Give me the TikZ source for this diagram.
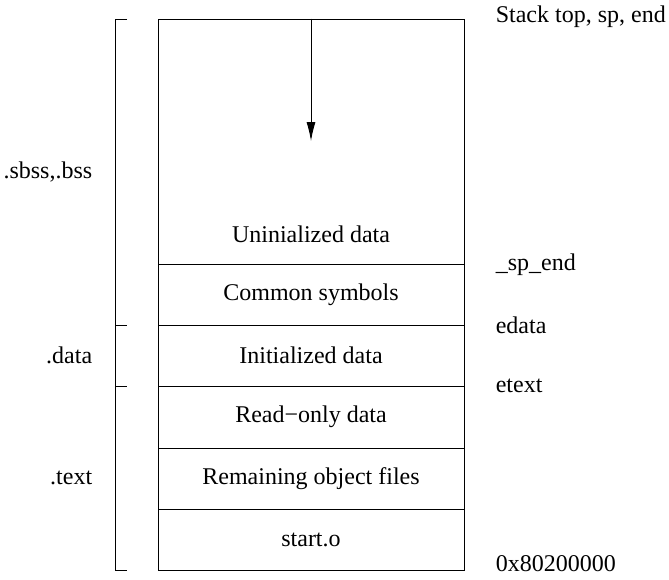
\documentclass[tikz,border=0pt]{standalone}
\usepackage{fontspec}
\setmainfont{Liberation Serif}
\usepackage{tikz}
\usetikzlibrary{arrows.meta}
\usetikzlibrary{positioning}

\begin{document}
\begin{tikzpicture}[x=1pt, y=-1pt, line width=0.9pt, font=\fontsize{24pt}{28pt}\selectfont,
	seg/.style={draw, minimum width=306pt, inner sep=0pt}]
				\useasboundingbox (0,0) rectangle (669,579);
				\node[seg, minimum height=245pt] (uninit) at (311,141.5) {};
				\node[seg, minimum height=61pt] (common) at (311,294.5) {Common symbols};
				\node[seg, minimum height=61pt] (init) at (311,355.5) {Initialized data};
				\node[seg, minimum height=62pt] (rodata) at (311,417) {Read−only data};
				\node[seg, minimum height=61pt] (objs) at (311,478.5) {Remaining object files};
				\node[seg, minimum height=61pt] (start) at (311,539.5) {start.o};
				\node (uninittxt) at (311,234) {Uninialized data};
				\coordinate (sptip) at (311,141);
				\draw[-{Latex[length=19pt, width=9pt]}] (uninit.north) to (sptip);
				\node[anchor=west] (stacktop) at (492,17) {Stack top, sp, end};
				\node[anchor=west] (spend) at (492,265) {\_sp\_end};
				\node[anchor=west] (edata) at (492,325) {edata};
				\node[anchor=west] (etext) at (492,386) {etext};
				\node[anchor=west, inner ysep=0pt] (base) at (492,564) {0x80200000};
				\node[anchor=east] (bss) at (96,172) {.sbss,.bss};
				\node[anchor=east] (data) at (96,355) {.data};
				\node[anchor=east] (text) at (96,478) {.text};
				\draw (127,19) -- (115,19) -- (115,570) -- (127,570);
				\draw (115,325) -- (127,325);
				\draw (115,386) -- (127,386);
			\end{tikzpicture}
\end{document}
